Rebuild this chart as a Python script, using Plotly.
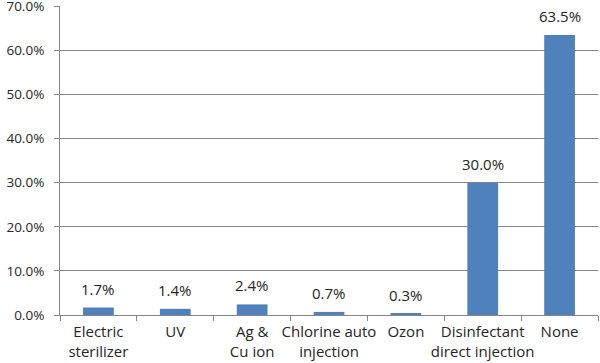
import plotly.graph_objects as go

categories = ["Electric<br>sterilizer", "UV", "Ag &<br>Cu ion", "Chlorine auto<br>injection",
              "Ozon", "Disinfectant<br>direct injection", "None"]
values = [1.7, 1.4, 2.4, 0.7, 0.3, 30.0, 63.5]
labels = ["1.7%", "1.4%", "2.4%", "0.7%", "0.3%", "30.0%", "63.5%"]
y_ticks = [0, 10, 20, 30, 40, 50, 60, 70]
y_tick_text = ["0.0%", "10.0%", "20.0%", "30.0%", "40.0%", "50.0%", "60.0%", "70.0%"]

font_family = "Open Sans, Noto Sans, sans-serif"
text_color = "#262626"

fig = go.Figure(go.Bar(
    x=categories, y=values,
    marker=dict(color="#4F81BD", line=dict(width=0)),
    hoverinfo="skip",
))

for cat, val, lab in zip(categories, values, labels):
    fig.add_annotation(
        x=cat, y=val, text=lab, showarrow=False, yanchor="bottom", yshift=7,
        font=dict(size=15, color=text_color, family=font_family),
    )

fig.update_layout(
    width=600, height=363,
    margin=dict(l=60, r=2, t=6, b=48, autoexpand=False),
    paper_bgcolor="white", plot_bgcolor="white",
    bargap=0.6, showlegend=False,
    font=dict(family=font_family, size=13, color=text_color),
    xaxis=dict(
        type="category", showgrid=False, showline=True, linecolor="#868686", linewidth=1,
        ticks="outside", tickson="boundaries", ticklen=5, tickcolor="#868686",
        tickfont=dict(size=15, color=text_color), tickangle=0, automargin=False,
        ticklabelstandoff=3,
    ),
    yaxis=dict(
        range=[0, 70.1], tickvals=y_ticks, ticktext=y_tick_text,
        showgrid=True, gridcolor="#868686", gridwidth=1,
        showline=True, linecolor="#868686", linewidth=1,
        ticks="outside", ticklen=5, tickcolor="#868686",
        tickfont=dict(size=13.5, color=text_color), zeroline=False, automargin=False,
        ticklabeloverflow="allow", ticklabelstandoff=7,
    ),
)

fig.write_html("out.html", config={"displayModeBar": False},
               post_script="document.body.style.margin='0';")
